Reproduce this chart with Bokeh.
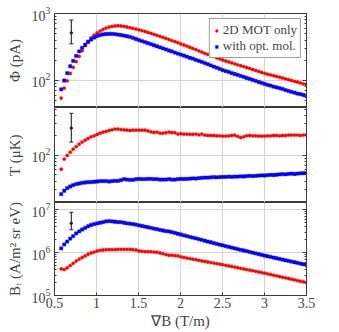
from bokeh.plotting import figure
from bokeh.layouts import column
from bokeh.models import FixedTicker, LogAxis, Legend, LegendItem, Range1d
from bokeh.embed import file_html
from bokeh.resources import INLINE

# ---------------- data ----------------
grad_B = [0.580, 0.616, 0.651, 0.687, 0.722, 0.758, 0.794, 0.829, 0.865, 0.900,
          0.936, 0.972, 1.007, 1.043, 1.078, 1.114, 1.150, 1.185, 1.221, 1.256,
          1.292, 1.328, 1.363, 1.399, 1.434, 1.470, 1.506, 1.541, 1.577, 1.612,
          1.648, 1.684, 1.719, 1.755, 1.790, 1.826, 1.862, 1.897, 1.933, 1.968,
          2.004, 2.040, 2.075, 2.111, 2.146, 2.182, 2.218, 2.253, 2.289, 2.324,
          2.360, 2.396, 2.431, 2.467, 2.502, 2.538, 2.574, 2.609, 2.645, 2.680,
          2.716, 2.752, 2.787, 2.823, 2.858, 2.894, 2.930, 2.965, 3.001, 3.036,
          3.072, 3.108, 3.143, 3.179, 3.214, 3.250, 3.286, 3.321, 3.357, 3.392,
          3.428, 3.464, 3.499]

phi_mot = [54, 76, 98, 126, 156, 190, 228, 276, 330, 382,
           429, 474, 510, 546, 577, 605, 627, 641, 650, 655,
           650, 641, 628, 613, 598, 584, 570, 553, 538, 521,
           504, 487, 471, 455, 439, 424, 408, 393, 379, 365,
           350, 337, 325, 312, 300, 288, 276, 264, 253, 244,
           234, 226, 217, 209, 201, 194, 188, 182, 176, 170,
           165, 160, 155, 150, 145, 140, 136, 131, 127, 123,
           120, 117, 114, 111, 108, 105, 102, 99, 96, 94,
           91, 88, 86]
phi_mol = [73, 99, 128, 162, 195, 232, 270, 306, 340, 374,
           405, 435, 458, 475, 486, 493, 496, 495, 491, 484,
           476, 466, 456, 446, 430, 415, 400, 386, 373, 359,
           347, 334, 323, 311, 300, 290, 279, 270, 260, 251,
           242, 234, 225, 217, 210, 202, 195, 188, 181, 174,
           167, 160, 154, 148, 142, 137, 133, 128, 124, 120,
           116, 112, 108, 105, 101, 98, 94, 91, 88, 85,
           83, 80, 78, 76, 74, 71, 69, 67, 65, 63,
           62, 60, 58]

T_mot = [61, 87, 99, 111, 123, 135, 147, 158, 169, 179,
         190, 197, 206, 216, 224, 229, 237, 243, 249, 249,
         245, 243, 240, 237, 240, 240, 240, 240, 240, 234,
         226, 221, 224, 216, 216, 219, 224, 221, 219, 209,
         212, 209, 209, 207, 207, 209, 204, 209, 202, 199,
         199, 199, 197, 197, 195, 195, 197, 199, 202, 193,
         185, 190, 197, 199, 197, 197, 195, 195, 195, 197,
         197, 199, 199, 197, 199, 199, 202, 202, 202, 202,
         199, 202, 204]
T_mol = [25.5, 28.7, 31.5, 33.3, 34.9, 36.2, 37.0, 37.9, 38.3, 38.8,
         38.8, 39.3, 39.7, 40.2, 40.2, 40.2, 39.7, 40.2, 40.6, 40.6,
         41.6, 43.1, 42.5, 42.1, 42.1, 43.1, 43.5, 43.1, 43.1, 43.5,
         43.5, 43.1, 43.1, 42.5, 42.5, 42.5, 43.1, 42.5, 42.5, 43.1,
         43.5, 43.3, 43.5, 43.8, 44.2, 44.0, 44.6, 45.1, 45.6, 45.4,
         45.8, 46.2, 46.0, 46.4, 46.7, 46.7, 47.0, 46.8, 47.1, 47.2,
         47.5, 47.3, 47.8, 48.2, 48.0, 48.4, 48.9, 49.2, 49.0, 49.6,
         50.1, 49.8, 50.3, 50.8, 51.2, 51.0, 51.9, 52.3, 51.6, 52.4,
         52.9, 53.0, 53.2]

B_mot = [4.17e5, 4.03e5, 4.40e5, 4.97e5, 5.62e5, 6.34e5, 7.04e5, 7.69e5, 8.37e5, 9.14e5,
         9.79e5, 1.03e6, 1.09e6, 1.13e6, 1.15e6, 1.17e6, 1.17e6, 1.17e6, 1.17e6, 1.19e6,
         1.19e6, 1.19e6, 1.19e6, 1.19e6, 1.17e6, 1.15e6, 1.09e6, 1.07e6, 1.05e6, 1.05e6,
         1.05e6, 1.03e6, 1.02e6, 9.79e5, 9.46e5, 8.98e5, 8.67e5, 8.67e5, 8.51e5, 8.37e5,
         7.94e5, 7.70e5, 7.46e5, 7.24e5, 7.02e5, 6.82e5, 6.60e5, 6.40e5, 6.22e5, 6.04e5,
         5.86e5, 5.70e5, 5.54e5, 5.38e5, 5.22e5, 5.05e5, 4.90e5, 4.74e5, 4.59e5, 4.44e5,
         4.30e5, 4.17e5, 4.03e5, 3.91e5, 3.78e5, 3.66e5, 3.54e5, 3.43e5, 3.32e5, 3.20e5,
         3.09e5, 2.98e5, 2.87e5, 2.77e5, 2.67e5, 2.58e5, 2.49e5, 2.40e5, 2.31e5, 2.23e5,
         2.15e5, 2.07e5, 2.00e5]
B_mol = [1.25e6, 1.55e6, 1.81e6, 2.12e6, 2.43e6, 2.80e6, 3.11e6, 3.45e6, 3.76e6, 4.11e6,
         4.40e6, 4.63e6, 4.80e6, 4.96e6, 5.14e6, 5.33e6, 5.42e6, 5.33e6, 5.23e6, 5.14e6,
         5.14e6, 4.96e6, 4.80e6, 4.71e6, 4.63e6, 4.47e6, 4.33e6, 4.17e6, 4.03e6, 3.89e6,
         3.76e6, 3.63e6, 3.51e6, 3.39e6, 3.27e6, 3.16e6, 3.11e6, 3.00e6, 2.89e6, 2.75e6,
         2.64e6, 2.53e6, 2.43e6, 2.33e6, 2.23e6, 2.14e6, 2.05e6, 1.97e6, 1.89e6, 1.81e6,
         1.74e6, 1.67e6, 1.60e6, 1.53e6, 1.47e6, 1.41e6, 1.36e6, 1.31e6, 1.26e6, 1.21e6,
         1.16e6, 1.12e6, 1.08e6, 1.04e6, 9.95e5, 9.57e5, 9.21e5, 8.86e5, 8.52e5, 8.22e5,
         7.93e5, 7.65e5, 7.38e5, 7.12e5, 6.87e5, 6.63e5, 6.40e5, 6.18e5, 5.96e5, 5.75e5,
         5.55e5, 5.35e5, 5.14e5]

# representative error bars (x, low, centre, high)
err_x = [0.7]
phi_err = [351, 512, 798]
T_err = [158, 258, 433]
B_err = [3.4e6, 4.8e6, 8.7e6]

x_ticks = [0.5, 1, 1.5, 2, 2.5, 3, 3.5]
x_tick_labels = ["0.5", "1", "1.5", "2", "2.5", "3", "3.5"]

series_names = ["2D MOT only", "with opt. mol."]

FONT = "Liberation Serif"
RED = "#ff0000"
BLUE = "#0000ff"
FRAME = "#3a3a3a"
GRID = "#d4d4d4"
W = 339
LEFT = 54
RIGHT = 33


def minor_list(decades):
    out = []
    for d in decades:
        for m in range(2, 10):
            out.append(m * d)
    return out


def panel(y_lo, y_hi, majors, minors, ylabel, height, top, bottom, show_x):
    p = figure(width=W, height=height, x_range=Range1d(0.5, 3.5),
               y_range=Range1d(y_lo, y_hi), y_axis_type="log",
               output_backend="svg", toolbar_location=None,
               min_border_left=LEFT, min_border_right=RIGHT,
               min_border_top=top, min_border_bottom=bottom)
    p.outline_line_color = FRAME
    p.outline_line_width = 1

    ya = p.yaxis[0]
    ya.ticker = FixedTicker(ticks=majors, minor_ticks=minors)
    ya.axis_label = ylabel
    ya.axis_label_text_font = FONT
    ya.axis_label_text_font_style = "normal"
    ya.axis_label_text_font_size = "15px"
    ya.axis_label_standoff = 6
    ya.major_label_text_font = FONT
    ya.major_label_text_font_size = "14px"
    ya.major_label_standoff = 4
    ya.major_tick_in = 4
    ya.major_tick_out = 0
    ya.minor_tick_in = 2
    ya.minor_tick_out = 0
    ya.axis_line_color = FRAME
    ya.major_tick_line_color = FRAME
    ya.minor_tick_line_color = FRAME

    ra = LogAxis(ticker=FixedTicker(ticks=majors, minor_ticks=minors))
    ra.major_label_text_color = None
    ra.major_label_text_font_size = "6px"
    ra.major_label_standoff = 0
    ra.major_tick_in = 4
    ra.major_tick_out = 0
    ra.minor_tick_in = 2
    ra.minor_tick_out = 0
    ra.axis_line_color = FRAME
    ra.major_tick_line_color = FRAME
    ra.minor_tick_line_color = FRAME
    p.add_layout(ra, "right")

    xa = p.xaxis[0]
    xa.ticker = FixedTicker(ticks=x_ticks)
    xa.major_label_overrides = {t: s for t, s in zip(x_ticks, x_tick_labels)}
    xa.major_label_text_font = FONT
    xa.major_label_text_font_size = "14px"
    xa.major_label_standoff = 2
    xa.major_tick_in = 3
    xa.major_tick_out = 0
    xa.minor_tick_in = 0
    xa.minor_tick_out = 0
    xa.axis_line_color = FRAME
    xa.major_tick_line_color = FRAME
    xa.axis_label_text_font = FONT
    xa.axis_label_text_font_style = "normal"
    xa.axis_label_text_font_size = "15px"
    xa.axis_label_standoff = 2
    if show_x:
        xa.axis_label = "\u2207B (T/m)"
    else:
        xa.visible = False

    p.xgrid.ticker = FixedTicker(ticks=x_ticks)
    p.xgrid.grid_line_color = GRID
    p.ygrid.ticker = FixedTicker(ticks=majors)
    p.ygrid.grid_line_color = GRID
    return p


def add_series(p, y_red, y_blue, err):
    r1 = p.scatter(grad_B, y_red, marker="circle", size=3.3,
                   fill_color=RED, line_color=RED, line_alpha=0.35)
    r2 = p.scatter(grad_B, y_blue, marker="square", size=3.3,
                   fill_color=BLUE, line_color=BLUE, line_alpha=0.35)
    p.segment(x0=err_x, y0=[err[0]], x1=err_x, y1=[err[2]],
              line_color="#222222", line_width=1.1)
    p.scatter(err_x * 2, [err[0], err[2]], marker="dash", size=4,
              line_color="#222222", line_width=1)
    p.scatter(err_x, [err[1]], marker="circle", size=2.4,
              fill_color="#222222", line_color="#222222")
    return r1, r2


p1 = panel(39, 1000, [100, 1000], minor_list([10, 100]),
           "\u03a6 (pA)", 107, 13, 0, False)
a1, b1 = add_series(p1, phi_mot, phi_mol, phi_err)
legend = Legend(items=[LegendItem(label=series_names[0], renderers=[a1]),
                       LegendItem(label=series_names[1], renderers=[b1])],
                location="top_right")
legend.label_text_font = FONT
legend.label_text_font_size = "13px"
legend.label_standoff = 3
legend.label_height = 15
legend.glyph_width = 7
legend.glyph_height = 15
legend.spacing = 0
legend.padding = 3
legend.margin = 5
legend.border_line_color = FRAME
legend.border_line_width = 1
legend.background_fill_alpha = 1
p1.add_layout(legend)

p2 = panel(19, 531, [100], minor_list([10, 100]),
           "T (\u03bcK)", 95, 0, 0, False)
add_series(p2, T_mot, T_mol, T_err)

p3 = panel(1e5, 1.47e7, [1e5, 1e6, 1e7], minor_list([1e5, 1e6]),
           "B\u1d63 (A/m\u00b2 sr eV)", 129, 0, 34, True)
add_series(p3, B_mot, B_mol, B_err)

layout = column(p1, p2, p3, spacing=0)
open("out.html", "w").write(file_html(layout, INLINE))
